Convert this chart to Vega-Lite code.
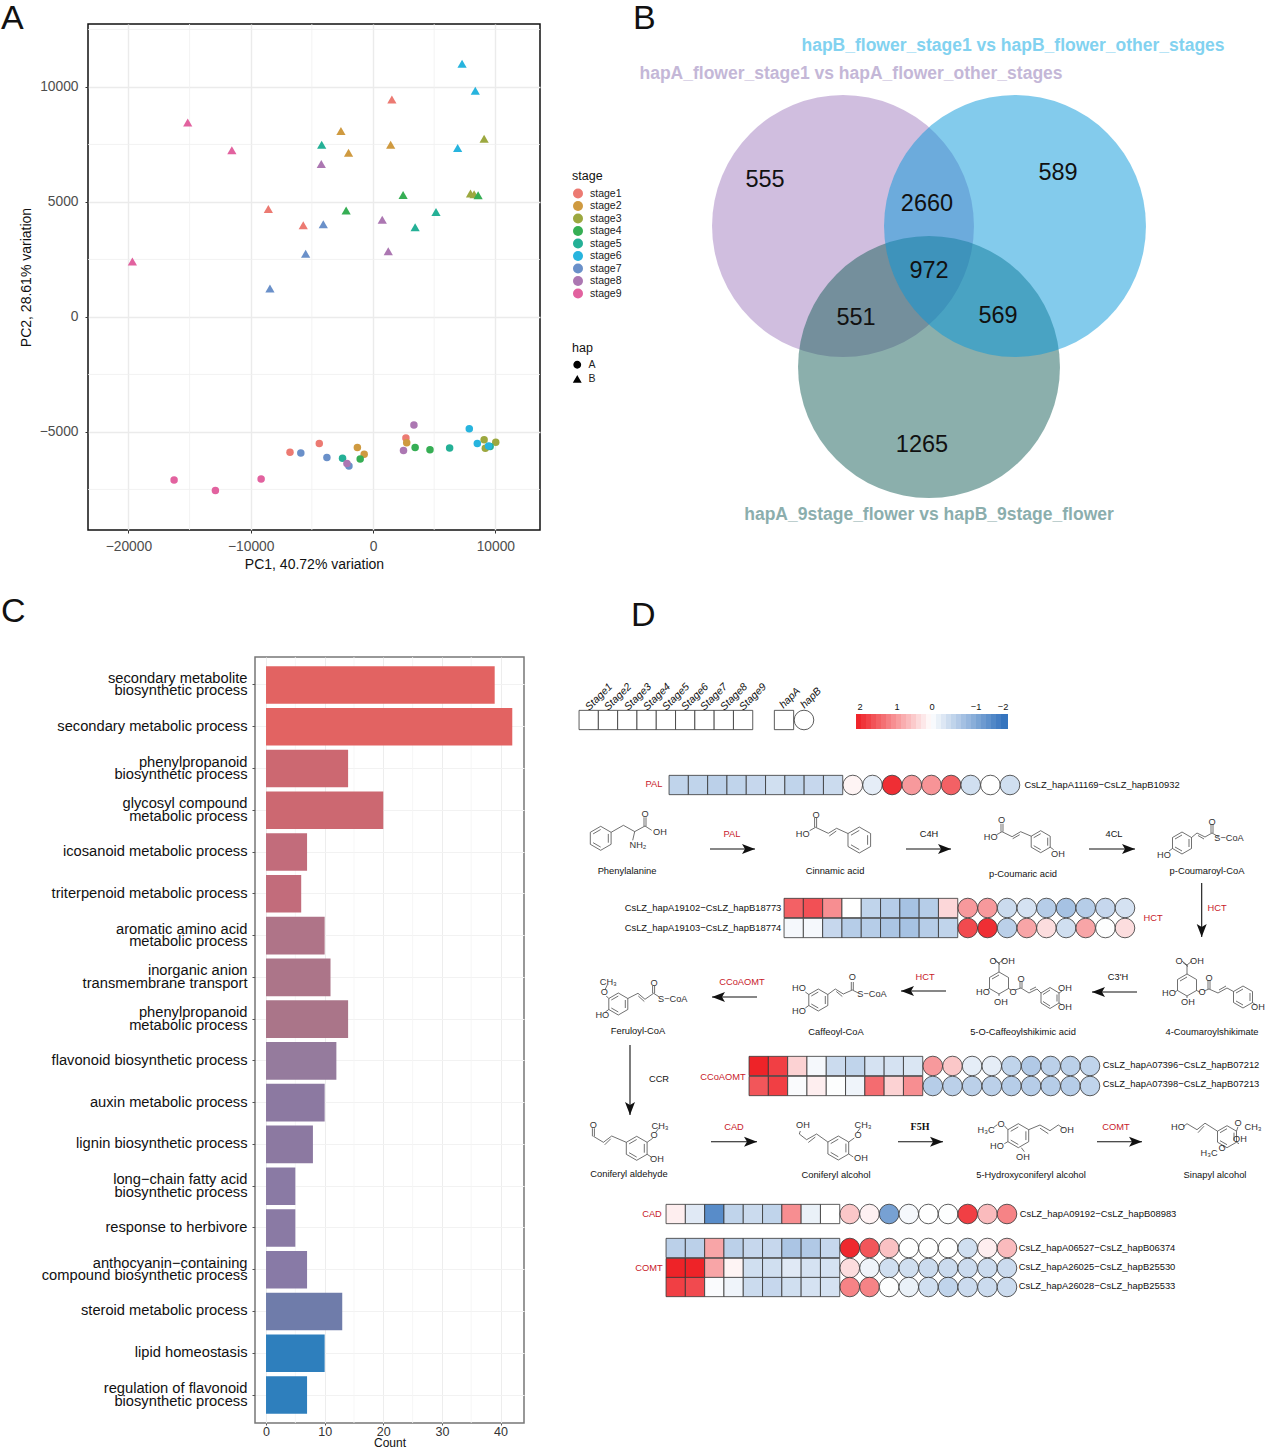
{"$schema":"https://vega.github.io/schema/vega-lite/v6.json","padding":{"left":0,"top":0,"right":0,"bottom":0},"background":"white","config":{"font":"Liberation Sans","view":{"stroke":null},"concat":{"spacing":0}},"bounds":"flush","spacing":633,"datasets":{"cells":[
{"g":"key","s":1,"h":"A","v":0,"gx":18.7,"gy":63},{"g":"key","s":2,"h":"A","v":0,"gx":38,"gy":63},{"g":"key","s":3,"h":"A","v":0,"gx":57.3,"gy":63},{"g":"key","s":4,"h":"A","v":0,"gx":76.6,"gy":63},{"g":"key","s":5,"h":"A","v":0,"gx":95.9,"gy":63},{"g":"key","s":6,"h":"A","v":0,"gx":115.2,"gy":63},{"g":"key","s":7,"h":"A","v":0,"gx":134.5,"gy":63},{"g":"key","s":8,"h":"A","v":0,"gx":153.8,"gy":63},{"g":"key","s":9,"h":"A","v":0,"gx":173.1,"gy":63},{"g":"hapkey","s":0,"h":"A","v":0,"gx":214,"gy":63},{"g":"hapkey","s":0,"h":"B","v":0,"gx":234,"gy":63},
{"g":"11169","s":1,"h":"A","v":-0.6,"gx":108.7,"gy":128},{"g":"11169","s":2,"h":"A","v":-0.6,"gx":128,"gy":128},{"g":"11169","s":3,"h":"A","v":-0.65,"gx":147.3,"gy":128},{"g":"11169","s":4,"h":"A","v":-0.6,"gx":166.6,"gy":128},{"g":"11169","s":5,"h":"A","v":-0.55,"gx":185.9,"gy":128},{"g":"11169","s":6,"h":"A","v":-0.45,"gx":205.2,"gy":128},{"g":"11169","s":7,"h":"A","v":-0.6,"gx":224.5,"gy":128},{"g":"11169","s":8,"h":"A","v":-0.55,"gx":243.8,"gy":128},{"g":"11169","s":9,"h":"A","v":-0.5,"gx":263.1,"gy":128},
{"g":"11169","s":1,"h":"B","v":0.1,"gx":282.8,"gy":128},{"g":"11169","s":2,"h":"B","v":-0.25,"gx":302.5,"gy":128},{"g":"11169","s":3,"h":"B","v":1.85,"gx":322.1,"gy":128},{"g":"11169","s":4,"h":"B","v":0.9,"gx":341.8,"gy":128},{"g":"11169","s":5,"h":"B","v":0.95,"gx":361.4,"gy":128},{"g":"11169","s":6,"h":"B","v":1.4,"gx":381.1,"gy":128},{"g":"11169","s":7,"h":"B","v":-0.45,"gx":400.7,"gy":128},{"g":"11169","s":8,"h":"B","v":0,"gx":420.4,"gy":128},{"g":"11169","s":9,"h":"B","v":-0.45,"gx":440,"gy":128},
{"g":"19102","s":1,"h":"A","v":1.4,"gx":223.7,"gy":251},{"g":"19102","s":2,"h":"A","v":1.55,"gx":243,"gy":251},{"g":"19102","s":3,"h":"A","v":1,"gx":262.3,"gy":251},{"g":"19102","s":4,"h":"A","v":0,"gx":281.6,"gy":251},{"g":"19102","s":5,"h":"A","v":-0.6,"gx":300.9,"gy":251},{"g":"19102","s":6,"h":"A","v":-0.7,"gx":320.2,"gy":251},{"g":"19102","s":7,"h":"A","v":-0.85,"gx":339.5,"gy":251},{"g":"19102","s":8,"h":"A","v":-0.7,"gx":358.8,"gy":251},{"g":"19102","s":9,"h":"A","v":0.35,"gx":378.1,"gy":251},
{"g":"19102","s":1,"h":"B","v":0.9,"gx":397.8,"gy":251},{"g":"19102","s":2,"h":"B","v":0.9,"gx":417.5,"gy":251},{"g":"19102","s":3,"h":"B","v":-0.5,"gx":437.1,"gy":251},{"g":"19102","s":4,"h":"B","v":-0.4,"gx":456.8,"gy":251},{"g":"19102","s":5,"h":"B","v":-0.7,"gx":476.4,"gy":251},{"g":"19102","s":6,"h":"B","v":-0.85,"gx":496.1,"gy":251},{"g":"19102","s":7,"h":"B","v":-0.7,"gx":515.7,"gy":251},{"g":"19102","s":8,"h":"B","v":-0.55,"gx":535.4,"gy":251},{"g":"19102","s":9,"h":"B","v":-0.4,"gx":555,"gy":251},
{"g":"19103","s":1,"h":"A","v":-0.1,"gx":223.7,"gy":271},{"g":"19103","s":2,"h":"A","v":-0.1,"gx":243,"gy":271},{"g":"19103","s":3,"h":"A","v":-0.55,"gx":262.3,"gy":271},{"g":"19103","s":4,"h":"A","v":-0.7,"gx":281.6,"gy":271},{"g":"19103","s":5,"h":"A","v":-0.7,"gx":300.9,"gy":271},{"g":"19103","s":6,"h":"A","v":-0.8,"gx":320.2,"gy":271},{"g":"19103","s":7,"h":"A","v":-0.85,"gx":339.5,"gy":271},{"g":"19103","s":8,"h":"A","v":-0.7,"gx":358.8,"gy":271},{"g":"19103","s":9,"h":"A","v":-0.6,"gx":378.1,"gy":271},
{"g":"19103","s":1,"h":"B","v":1.6,"gx":397.8,"gy":271},{"g":"19103","s":2,"h":"B","v":1.85,"gx":417.5,"gy":271},{"g":"19103","s":3,"h":"B","v":-0.65,"gx":437.1,"gy":271},{"g":"19103","s":4,"h":"B","v":0.8,"gx":456.8,"gy":271},{"g":"19103","s":5,"h":"B","v":0.3,"gx":476.4,"gy":271},{"g":"19103","s":6,"h":"B","v":-0.45,"gx":496.1,"gy":271},{"g":"19103","s":7,"h":"B","v":0.8,"gx":515.7,"gy":271},{"g":"19103","s":8,"h":"B","v":-0.02,"gx":535.4,"gy":271},{"g":"19103","s":9,"h":"B","v":0.3,"gx":555,"gy":271},
{"g":"07396","s":1,"h":"A","v":1.95,"gx":188.7,"gy":409},{"g":"07396","s":2,"h":"A","v":1.7,"gx":208,"gy":409},{"g":"07396","s":3,"h":"A","v":0.4,"gx":227.3,"gy":409},{"g":"07396","s":4,"h":"A","v":-0.1,"gx":246.6,"gy":409},{"g":"07396","s":5,"h":"A","v":-0.5,"gx":265.9,"gy":409},{"g":"07396","s":6,"h":"A","v":-0.6,"gx":285.2,"gy":409},{"g":"07396","s":7,"h":"A","v":-0.4,"gx":304.5,"gy":409},{"g":"07396","s":8,"h":"A","v":-0.4,"gx":323.8,"gy":409},{"g":"07396","s":9,"h":"A","v":-0.35,"gx":343.1,"gy":409},
{"g":"07396","s":1,"h":"B","v":0.9,"gx":362.8,"gy":409},{"g":"07396","s":2,"h":"B","v":0.5,"gx":382.5,"gy":409},{"g":"07396","s":3,"h":"B","v":-0.25,"gx":402.1,"gy":409},{"g":"07396","s":4,"h":"B","v":-0.25,"gx":421.8,"gy":409},{"g":"07396","s":5,"h":"B","v":-0.6,"gx":441.4,"gy":409},{"g":"07396","s":6,"h":"B","v":-0.75,"gx":461.1,"gy":409},{"g":"07396","s":7,"h":"B","v":-0.65,"gx":480.7,"gy":409},{"g":"07396","s":8,"h":"B","v":-0.65,"gx":500.4,"gy":409},{"g":"07396","s":9,"h":"B","v":-0.6,"gx":520,"gy":409},
{"g":"07398","s":1,"h":"A","v":1.5,"gx":188.7,"gy":429},{"g":"07398","s":2,"h":"A","v":1.7,"gx":208,"gy":429},{"g":"07398","s":3,"h":"A","v":-0.05,"gx":227.3,"gy":429},{"g":"07398","s":4,"h":"A","v":0.15,"gx":246.6,"gy":429},{"g":"07398","s":5,"h":"A","v":-0.02,"gx":265.9,"gy":429},{"g":"07398","s":6,"h":"A","v":-0.15,"gx":285.2,"gy":429},{"g":"07398","s":7,"h":"A","v":1.3,"gx":304.5,"gy":429},{"g":"07398","s":8,"h":"A","v":0.4,"gx":323.8,"gy":429},{"g":"07398","s":9,"h":"A","v":1,"gx":343.1,"gy":429},
{"g":"07398","s":1,"h":"B","v":-0.7,"gx":362.8,"gy":429},{"g":"07398","s":2,"h":"B","v":-0.65,"gx":382.5,"gy":429},{"g":"07398","s":3,"h":"B","v":-0.65,"gx":402.1,"gy":429},{"g":"07398","s":4,"h":"B","v":-0.65,"gx":421.8,"gy":429},{"g":"07398","s":5,"h":"B","v":-0.7,"gx":441.4,"gy":429},{"g":"07398","s":6,"h":"B","v":-0.7,"gx":461.1,"gy":429},{"g":"07398","s":7,"h":"B","v":-0.7,"gx":480.7,"gy":429},{"g":"07398","s":8,"h":"B","v":-0.7,"gx":500.4,"gy":429},{"g":"07398","s":9,"h":"B","v":-0.6,"gx":520,"gy":429},
{"g":"09192","s":1,"h":"A","v":0.15,"gx":105.7,"gy":557},{"g":"09192","s":2,"h":"A","v":-0.3,"gx":125,"gy":557},{"g":"09192","s":3,"h":"A","v":-1.6,"gx":144.3,"gy":557},{"g":"09192","s":4,"h":"A","v":-0.6,"gx":163.6,"gy":557},{"g":"09192","s":5,"h":"A","v":-0.5,"gx":182.9,"gy":557},{"g":"09192","s":6,"h":"A","v":-0.6,"gx":202.2,"gy":557},{"g":"09192","s":7,"h":"A","v":1,"gx":221.5,"gy":557},{"g":"09192","s":8,"h":"A","v":-0.2,"gx":240.8,"gy":557},{"g":"09192","s":9,"h":"A","v":0,"gx":260.1,"gy":557},
{"g":"09192","s":1,"h":"B","v":0.5,"gx":279.8,"gy":557},{"g":"09192","s":2,"h":"B","v":0.12,"gx":299.5,"gy":557},{"g":"09192","s":3,"h":"B","v":-1.3,"gx":319.1,"gy":557},{"g":"09192","s":4,"h":"B","v":-0.1,"gx":338.8,"gy":557},{"g":"09192","s":5,"h":"B","v":0,"gx":358.4,"gy":557},{"g":"09192","s":6,"h":"B","v":-0.02,"gx":378.1,"gy":557},{"g":"09192","s":7,"h":"B","v":1.7,"gx":397.7,"gy":557},{"g":"09192","s":8,"h":"B","v":0.6,"gx":417.4,"gy":557},{"g":"09192","s":9,"h":"B","v":1.1,"gx":437,"gy":557},
{"g":"06527","s":1,"h":"A","v":-0.65,"gx":105.7,"gy":591},{"g":"06527","s":2,"h":"A","v":-0.65,"gx":125,"gy":591},{"g":"06527","s":3,"h":"A","v":0.8,"gx":144.3,"gy":591},{"g":"06527","s":4,"h":"A","v":-0.65,"gx":163.6,"gy":591},{"g":"06527","s":5,"h":"A","v":-0.55,"gx":182.9,"gy":591},{"g":"06527","s":6,"h":"A","v":-0.55,"gx":202.2,"gy":591},{"g":"06527","s":7,"h":"A","v":-0.8,"gx":221.5,"gy":591},{"g":"06527","s":8,"h":"A","v":-0.75,"gx":240.8,"gy":591},{"g":"06527","s":9,"h":"A","v":-0.55,"gx":260.1,"gy":591},
{"g":"06527","s":1,"h":"B","v":1.9,"gx":279.8,"gy":591},{"g":"06527","s":2,"h":"B","v":1.5,"gx":299.5,"gy":591},{"g":"06527","s":3,"h":"B","v":0.55,"gx":319.1,"gy":591},{"g":"06527","s":4,"h":"B","v":0,"gx":338.8,"gy":591},{"g":"06527","s":5,"h":"B","v":0,"gx":358.4,"gy":591},{"g":"06527","s":6,"h":"B","v":0,"gx":378.1,"gy":591},{"g":"06527","s":7,"h":"B","v":-0.45,"gx":397.7,"gy":591},{"g":"06527","s":8,"h":"B","v":0.15,"gx":417.4,"gy":591},{"g":"06527","s":9,"h":"B","v":0.6,"gx":437,"gy":591},
{"g":"26025","s":1,"h":"A","v":1.95,"gx":105.7,"gy":611},{"g":"26025","s":2,"h":"A","v":1.95,"gx":125,"gy":611},{"g":"26025","s":3,"h":"A","v":0.8,"gx":144.3,"gy":611},{"g":"26025","s":4,"h":"A","v":0.1,"gx":163.6,"gy":611},{"g":"26025","s":5,"h":"A","v":-0.45,"gx":182.9,"gy":611},{"g":"26025","s":6,"h":"A","v":-0.45,"gx":202.2,"gy":611},{"g":"26025","s":7,"h":"A","v":-0.3,"gx":221.5,"gy":611},{"g":"26025","s":8,"h":"A","v":-0.4,"gx":240.8,"gy":611},{"g":"26025","s":9,"h":"A","v":-0.4,"gx":260.1,"gy":611},
{"g":"26025","s":1,"h":"B","v":0.3,"gx":279.8,"gy":611},{"g":"26025","s":2,"h":"B","v":-0.15,"gx":299.5,"gy":611},{"g":"26025","s":3,"h":"B","v":-0.45,"gx":319.1,"gy":611},{"g":"26025","s":4,"h":"B","v":-0.45,"gx":338.8,"gy":611},{"g":"26025","s":5,"h":"B","v":-0.5,"gx":358.4,"gy":611},{"g":"26025","s":6,"h":"B","v":-0.5,"gx":378.1,"gy":611},{"g":"26025","s":7,"h":"B","v":-0.5,"gx":397.7,"gy":611},{"g":"26025","s":8,"h":"B","v":-0.5,"gx":417.4,"gy":611},{"g":"26025","s":9,"h":"B","v":-0.5,"gx":437,"gy":611},
{"g":"26028","s":1,"h":"A","v":1.7,"gx":105.7,"gy":630},{"g":"26028","s":2,"h":"A","v":1.6,"gx":125,"gy":630},{"g":"26028","s":3,"h":"A","v":-0.05,"gx":144.3,"gy":630},{"g":"26028","s":4,"h":"A","v":-0.15,"gx":163.6,"gy":630},{"g":"26028","s":5,"h":"A","v":-0.5,"gx":182.9,"gy":630},{"g":"26028","s":6,"h":"A","v":-0.55,"gx":202.2,"gy":630},{"g":"26028","s":7,"h":"A","v":-0.45,"gx":221.5,"gy":630},{"g":"26028","s":8,"h":"A","v":-0.4,"gx":240.8,"gy":630},{"g":"26028","s":9,"h":"A","v":-0.4,"gx":260.1,"gy":630},
{"g":"26028","s":1,"h":"B","v":1.1,"gx":279.8,"gy":630},{"g":"26028","s":2,"h":"B","v":1.1,"gx":299.5,"gy":630},{"g":"26028","s":3,"h":"B","v":-0.02,"gx":319.1,"gy":630},{"g":"26028","s":4,"h":"B","v":-0.2,"gx":338.8,"gy":630},{"g":"26028","s":5,"h":"B","v":-0.45,"gx":358.4,"gy":630},{"g":"26028","s":6,"h":"B","v":-0.6,"gx":378.1,"gy":630},{"g":"26028","s":7,"h":"B","v":-0.5,"gx":397.7,"gy":630},{"g":"26028","s":8,"h":"B","v":-0.5,"gx":417.4,"gy":630},{"g":"26028","s":9,"h":"B","v":-0.5,"gx":437,"gy":630}
]},"vconcat":[
{"bounds":"flush","spacing":80,"hconcat":[
{"width":452,"height":506,"view":{"stroke":"#111","strokeWidth":1.5},"title":{"text":"A","anchor":"start","frame":"group","fontSize":34,"fontWeight":"normal","color":"#111","offset":0,"dx":-87,"dy":39,"baseline":"alphabetic"},
"layer":[
{"data":{"values":[{"m":-15000},{"m":-5000},{"m":5000}]},"mark":{"type":"rule","color":"#F0F0F0","strokeWidth":0.8},"encoding":{"x":{"field":"m","type":"quantitative","title":"PC1, 40.72% variation","scale":{"domain":[-23300,13650],"nice":false,"zero":false}}}},
{"data":{"values":[{"m":12500},{"m":7500},{"m":2500},{"m":-2500},{"m":-7500}]},"mark":{"type":"rule","color":"#F0F0F0","strokeWidth":0.8},"encoding":{"y":{"field":"m","type":"quantitative","title":"PC2, 28.61% variation","scale":{"domain":[-9261,12739],"nice":false,"zero":false}}}},
{"data":{"values":[
{"stage":"stage6","hap":"B","pc1":7279,"pc2":11013},{"stage":"stage6","hap":"B","pc1":8360,"pc2":9839},{"stage":"stage6","hap":"B","pc1":6918,"pc2":7347},
{"stage":"stage1","hap":"B","pc1":1541,"pc2":9453},{"stage":"stage1","hap":"B","pc1":-8557,"pc2":4695},{"stage":"stage1","hap":"B","pc1":-5705,"pc2":3987},
{"stage":"stage9","hap":"B","pc1":-15148,"pc2":8457},{"stage":"stage9","hap":"B","pc1":-11541,"pc2":7251},{"stage":"stage9","hap":"B","pc1":-19672,"pc2":2412},
{"stage":"stage2","hap":"B","pc1":-2623,"pc2":8087},{"stage":"stage2","hap":"B","pc1":-2000,"pc2":7138},{"stage":"stage2","hap":"B","pc1":1443,"pc2":7492},
{"stage":"stage5","hap":"B","pc1":-4197,"pc2":7492},{"stage":"stage5","hap":"B","pc1":3443,"pc2":3907},{"stage":"stage5","hap":"B","pc1":5148,"pc2":4566},
{"stage":"stage3","hap":"B","pc1":9082,"pc2":7749},{"stage":"stage3","hap":"B","pc1":7967,"pc2":5370},{"stage":"stage3","hap":"B","pc1":8262,"pc2":5338},
{"stage":"stage8","hap":"B","pc1":-4230,"pc2":6656},{"stage":"stage8","hap":"B","pc1":754,"pc2":4228},{"stage":"stage8","hap":"B","pc1":1246,"pc2":2862},
{"stage":"stage4","hap":"B","pc1":2459,"pc2":5305},{"stage":"stage4","hap":"B","pc1":-2197,"pc2":4630},{"stage":"stage4","hap":"B","pc1":8590,"pc2":5289},
{"stage":"stage7","hap":"B","pc1":-4066,"pc2":4035},{"stage":"stage7","hap":"B","pc1":-5508,"pc2":2749},{"stage":"stage7","hap":"B","pc1":-8426,"pc2":1238},
{"stage":"stage1","hap":"A","pc1":-4393,"pc2":-5498},{"stage":"stage1","hap":"A","pc1":-6787,"pc2":-5884},{"stage":"stage1","hap":"A","pc1":2689,"pc2":-5257},
{"stage":"stage2","hap":"A","pc1":-1279,"pc2":-5675},{"stage":"stage2","hap":"A","pc1":-721,"pc2":-5965},{"stage":"stage2","hap":"A","pc1":2754,"pc2":-5466},
{"stage":"stage3","hap":"A","pc1":9082,"pc2":-5338},{"stage":"stage3","hap":"A","pc1":10033,"pc2":-5450},{"stage":"stage3","hap":"A","pc1":9180,"pc2":-5707},
{"stage":"stage4","hap":"A","pc1":3443,"pc2":-5675},{"stage":"stage4","hap":"A","pc1":-1049,"pc2":-6174},{"stage":"stage4","hap":"A","pc1":4656,"pc2":-5772},
{"stage":"stage5","hap":"A","pc1":-2492,"pc2":-6141},{"stage":"stage5","hap":"A","pc1":6262,"pc2":-5691},{"stage":"stage5","hap":"A","pc1":9574,"pc2":-5627},
{"stage":"stage6","hap":"A","pc1":7869,"pc2":-4855},{"stage":"stage6","hap":"A","pc1":8525,"pc2":-5498},{"stage":"stage6","hap":"A","pc1":9443,"pc2":-5611},
{"stage":"stage7","hap":"A","pc1":-5902,"pc2":-5916},{"stage":"stage7","hap":"A","pc1":-3770,"pc2":-6109},{"stage":"stage7","hap":"A","pc1":-1967,"pc2":-6479},
{"stage":"stage8","hap":"A","pc1":3344,"pc2":-4695},{"stage":"stage8","hap":"A","pc1":2492,"pc2":-5804},{"stage":"stage8","hap":"A","pc1":-2131,"pc2":-6367},
{"stage":"stage9","hap":"A","pc1":-16262,"pc2":-7090},{"stage":"stage9","hap":"A","pc1":-12885,"pc2":-7540},{"stage":"stage9","hap":"A","pc1":-9148,"pc2":-7042}
]},"encoding":{
"x":{"field":"pc1","type":"quantitative","title":"PC1, 40.72% variation","scale":{"domain":[-23300,13650],"nice":false,"zero":false},"axis":{"values":[-20000,-10000,0,10000],"format":"d","grid":true,"gridColor":"#EBEBEB","gridWidth":1.4,"domain":false,"tickSize":3,"tickColor":"#333","labelFontSize":13.8,"labelColor":"#4D4D4D","labelPadding":6,"titleFontSize":14,"titleFontWeight":"normal","titleColor":"#111","titlePadding":5,"labelFlush":false}},
"y":{"field":"pc2","type":"quantitative","title":"PC2, 28.61% variation","scale":{"domain":[-9261,12739],"nice":false,"zero":false},"axis":{"values":[-5000,0,5000,10000],"format":"d","grid":true,"gridColor":"#EBEBEB","gridWidth":1.4,"domain":false,"tickSize":3,"tickColor":"#333","labelFontSize":13.8,"labelColor":"#4D4D4D","labelPadding":7,"titleFontSize":14,"titleFontWeight":"normal","titleColor":"#111","titlePadding":6}},
"color":{"field":"stage","type":"nominal","scale":{"domain":["stage1","stage2","stage3","stage4","stage5","stage6","stage7","stage8","stage9"],"range":["#EC7A72","#CF9A40","#9CA83F","#36AE54","#24B096","#27B4DE","#6A90C9","#AC77B2","#E2629F"]},"legend":{"title":"stage","orient":"none","legendX":484,"legendY":146,"symbolType":"circle","symbolSize":100,"titleFontSize":12.5,"titleFontWeight":"normal","titleColor":"#111","labelFontSize":10.5,"labelColor":"#222","labelOffset":6,"rowPadding":0.5,"symbolOpacity":1}},
"shape":{"field":"hap","type":"nominal","scale":{"domain":["A","B"],"range":["circle","triangle-up"]},"legend":{"title":"hap","orient":"none","legendX":484,"legendY":318,"symbolSize":40,"symbolFillColor":"#000","symbolStrokeColor":"#000","titleFontSize":12.5,"titleFontWeight":"normal","titleColor":"#111","labelFontSize":10.5,"labelColor":"#222","labelOffset":6,"rowPadding":1.5}}
},"layer":[
{"transform":[{"filter":"datum.hap=='A'"}],"mark":{"type":"point","filled":true,"opacity":1,"size":56}},
{"transform":[{"filter":"datum.hap=='B'"}],"mark":{"type":"point","filled":true,"opacity":1,"size":85}}
]}]},
{"width":646,"height":506,"title":{"text":"B","anchor":"start","frame":"group","fontSize":34,"fontWeight":"normal","color":"#111","offset":0,"dx":13,"dy":39,"baseline":"alphabetic"},
"resolve":{"scale":{"color":"independent"}},
"layer":[
{"data":{"values":[{"set":"hapA stages","gx":223,"gy":202},{"set":"hapB stages","gx":395,"gy":202},{"set":"hapA vs hapB","gx":309,"gy":343}]},"mark":{"type":"circle","size":68600,"opacity":0.5},"encoding":{"x":{"field":"gx","type":"quantitative","axis":null,"scale":{"domain":[0,646],"nice":false,"zero":false}},"y":{"field":"gy","type":"quantitative","axis":null,"scale":{"domain":[506,0],"nice":false,"zero":false}},"color":{"field":"set","type":"nominal","legend":null,"sort":null,"scale":{"domain":["hapA stages","hapB stages","hapA vs hapB"],"range":["#A17DBF","#0797D9","#175F59"]}},"order":{"field":"gx","type":"quantitative","sort":"ascending"}}},
{"data":{"values":[{"n":"555","gx":145,"gy":156},{"n":"589","gx":438,"gy":149},{"n":"2660","gx":307,"gy":180},{"n":"972","gx":309,"gy":247},{"n":"551","gx":236,"gy":294},{"n":"569","gx":378,"gy":292},{"n":"1265","gx":302,"gy":421}]},"mark":{"type":"text","fontSize":23.5,"color":"#111"},"encoding":{"x":{"field":"gx","type":"quantitative"},"y":{"field":"gy","type":"quantitative"},"text":{"field":"n"}}},
{"data":{"values":[{"t":"hapB_flower_stage1 vs hapB_flower_other_stages","gx":393,"gy":22,"k":"b"},{"t":"hapA_flower_stage1 vs hapA_flower_other_stages","gx":231,"gy":50,"k":"a"},{"t":"hapA_9stage_flower vs hapB_9stage_flower","gx":309,"gy":491,"k":"c"}]},"mark":{"type":"text","fontSize":17.5,"fontWeight":"bold"},"encoding":{"x":{"field":"gx","type":"quantitative"},"y":{"field":"gy","type":"quantitative"},"text":{"field":"t"},"color":{"field":"k","type":"nominal","legend":null,"scale":{"domain":["a","b","c"],"range":["#C4B7D7","#82D2F0","#8BAEAD"]}}}}
]}
]},
{"bounds":"flush","spacing":46,"hconcat":[
{"width":121,"height":10,"data":{"values":[{"a":0}]},"mark":{"type":"point","opacity":0},"encoding":{}},
{"width":269,"height":766,"view":{"stroke":"#777","strokeWidth":1.5},"title":{"text":"C","anchor":"start","frame":"group","fontSize":34,"fontWeight":"normal","color":"#111","offset":0,"dx":-254,"dy":-1,"baseline":"alphabetic"},
"layer":[
{"data":{"values":[{"m":5},{"m":15},{"m":25},{"m":35}]},"mark":{"type":"rule","color":"#F4F4F4","strokeWidth":0.8},"encoding":{"x":{"field":"m","type":"quantitative","title":"Count","scale":{"domain":[-1.88,44],"nice":false,"zero":false}}}},
{"data":{"values":[
{"term":"secondary metabolite\nbiosynthetic process","count":39,"p":0},{"term":"secondary metabolic process","count":42,"p":0},{"term":"phenylpropanoid\nbiosynthetic process","count":14,"p":0.16},{"term":"glycosyl compound\nmetabolic process","count":20,"p":0.16},{"term":"icosanoid metabolic process","count":7,"p":0.25},{"term":"triterpenoid metabolic process","count":6,"p":0.25},{"term":"aromatic amino acid\nmetabolic process","count":10,"p":0.38},{"term":"inorganic anion\ntransmembrane transport","count":11,"p":0.4},{"term":"phenylpropanoid\nmetabolic process","count":14,"p":0.41},{"term":"flavonoid biosynthetic process","count":12,"p":0.55},{"term":"auxin metabolic process","count":10,"p":0.6},{"term":"lignin biosynthetic process","count":8,"p":0.6},{"term":"long\u2212chain fatty acid\nbiosynthetic process","count":5,"p":0.62},{"term":"response to herbivore","count":5,"p":0.62},{"term":"anthocyanin\u2212containing\ncompound biosynthetic process","count":7,"p":0.64},{"term":"steroid metabolic process","count":13,"p":0.75},{"term":"lipid homeostasis","count":10,"p":1},{"term":"regulation of flavonoid\nbiosynthetic process","count":7,"p":1}
]},"mark":{"type":"bar","opacity":1},"encoding":{
"y":{"field":"term","type":"nominal","sort":null,"title":null,"scale":{"paddingInner":0.1,"paddingOuter":0.22},"axis":{"labelExpr":"split(datum.label,'\\n')","labelFontSize":14.7,"labelColor":"#111","labelLineHeight":12.5,"labelLimit":260,"tickSize":3,"tickColor":"#555","labelPadding":5,"labelOffset":{"condition":{"test":"indexof(datum.label,'\\n')>=0","value":-6},"value":0},"domain":false,"grid":true,"gridColor":"#F2F2F2","labelAngle":0}},
"x":{"field":"count","type":"quantitative","title":"Count","scale":{"domain":[-1.88,44],"nice":false,"zero":false},"axis":{"values":[0,10,20,30,40],"grid":true,"gridColor":"#EDEDED","domain":false,"tickSize":2,"tickColor":"#555","labelFontSize":12.5,"labelColor":"#333","labelPadding":0,"titleFontSize":12,"titleFontWeight":"normal","titleColor":"#111","titlePadding":0}},
"color":{"field":"p","type":"quantitative","legend":null,"scale":{"domain":[0,0.16,0.25,0.38,0.41,0.55,0.6,0.64,0.75,1],"range":["#E26362","#CC6871","#C26C7B","#AF7488","#AA7589","#957B9D","#8C79A1","#887AA6","#6F7CAA","#2E7FBD"],"interpolate":"rgb"}}
}}]},
{"width":696,"height":766,"title":{"text":"D","anchor":"start","frame":"group","fontSize":34,"fontWeight":"normal","color":"#111","offset":0,"dx":61,"dy":3,"baseline":"alphabetic"},
"resolve":{"scale":{"shape":"independent","color":"independent","size":"independent"}},
"layer":[
{"data":{"values":[{"x0":140,"x1":185,"y0":192,"y1":192,"dir":"right"},{"x0":336,"x1":381,"y0":192,"y1":192,"dir":"right"},{"x0":519,"x1":565,"y0":192,"y1":192,"dir":"right"},{"x0":631.7,"x1":631.7,"y0":226,"y1":280,"dir":"down"},{"x0":567,"x1":522,"y0":335,"y1":335,"dir":"left"},{"x0":376,"x1":331,"y0":334,"y1":334,"dir":"left"},{"x0":187,"x1":142,"y0":340,"y1":340,"dir":"left"},{"x0":60,"x1":60,"y0":388,"y1":458,"dir":"down"},{"x0":141,"x1":187,"y0":484.7,"y1":484.7,"dir":"right"},{"x0":328,"x1":373,"y0":484.7,"y1":484.7,"dir":"right"},{"x0":527,"x1":572,"y0":484.7,"y1":484.7,"dir":"right"}]},
"layer":[
{"mark":{"type":"rule","color":"#111","strokeWidth":1.1},"encoding":{"x":{"field":"x0","type":"quantitative","axis":null,"scale":{"domain":[0,696],"nice":false,"zero":false}},"x2":{"field":"x1"},"y":{"field":"y0","type":"quantitative","axis":null,"scale":{"domain":[766,0],"nice":false,"zero":false}},"y2":{"field":"y1"}}},
{"mark":{"type":"point","filled":true,"size":4,"opacity":1,"color":"#111"},"encoding":{"x":{"field":"x1","type":"quantitative"},"y":{"field":"y1","type":"quantitative"},"shape":{"field":"dir","type":"nominal","legend":null,"scale":{"domain":["right","left","down"],"range":["M-13,-5L0,0L-13,5L-10,0Z","M13,-5L0,0L13,5L10,0Z","M-5,-13L0,0L5,-13L0,-10Z"]}}}}
]},
{"data":{"values":[{"compound":"Phenylalanine","gx":30.7,"gy":181.3},{"compound":"Cinnamic acid","gx":289.3,"gy":183},{"compound":"p-Coumaric acid","gx":470.7,"gy":184.7},{"compound":"p-Coumaroyl-CoA","gx":612,"gy":186},{"compound":"4-Coumaroylshikimate","gx":617,"gy":328},{"compound":"5-O-Caffeoylshikimic acid","gx":429,"gy":326},{"compound":"Caffeoyl-CoA","gx":248.3,"gy":343},{"compound":"Feruloyl-CoA","gx":48.3,"gy":347},{"compound":"Coniferyl aldehyde","gx":66.7,"gy":491.3},{"compound":"Coniferyl alcohol","gx":268.3,"gy":491},{"compound":"5-Hydroxyconiferyl alcohol","gx":448.3,"gy":478.7},{"compound":"Sinapyl alcohol","gx":657,"gy":479.7}]},
"mark":{"type":"point","filled":false,"size":4,"stroke":"#333","strokeWidth":0.7,"opacity":1},"encoding":{"x":{"field":"gx","type":"quantitative"},"y":{"field":"gy","type":"quantitative"},"shape":{"field":"compound","type":"nominal","legend":null,"scale":{"domain":["Phenylalanine","Cinnamic acid","p-Coumaric acid","p-Coumaroyl-CoA","4-Coumaroylshikimate","5-O-Caffeoylshikimic acid","Caffeoyl-CoA","Feruloyl-CoA","Coniferyl aldehyde","Coniferyl alcohol","5-Hydroxyconiferyl alcohol","Sinapyl alcohol"],"range":[
"M0,-12L10.4,-6V6L0,12L-10.4,6V-6ZM7.6,-4.4V4.4M0,8.8L-7.6,4.4M-7.6,-4.4L0,-8.8M10.4,-6L22.7,-13L34,-6.7L44.3,-12.3M43.3,-12V-21M45.3,-12V-21M44.3,-12.3L51,-8M34,-6.7L32,2",
"M0,-13L11.3,-6.5V6.5L0,13L-11.3,6.5V-6.5ZM8.3,-4.8V4.8M0,9.6L-8.3,4.8M-8.3,-4.8L0,-9.6M-11.3,-6.5L-22.7,-11.7L-31,-6.7L-43.7,-12.7M-23,-9L-30,-4M-44.7,-12.7V-22M-42.7,-12.7V-22M-43.7,-12.7L-49.7,-9.3",
"M0,-11L9.5,-5.5V5.5L0,11L-9.5,5.5V-5.5ZM7,-4V4M0,8L-7,4M-7,-4L0,-8M-9.5,-5.5L-20,-10L-28.6,-5L-38.7,-10M-21,-7L-28,-3M-39.7,-10V-18M-37.7,-10V-18M-38.7,-10L-44,-7M9.5,5.5L13,8",
"M0,-11L9.5,-5.5V5.5L0,11L-9.5,5.5V-5.5ZM7,-4V4M0,8L-7,4M-7,-4L0,-8M9.5,-5.5L15,-10L23,-6L30,-10M16,-7.5L22,-4M29,-10V-19M31,-10V-19M30,-10L37,-6M-9.5,5.5L-13,8",
"M0,-11L9.5,-5.5V5.5L0,11L-9.5,5.5V-5.5ZM-7,-4L0,-8M0,-11V-20M0,-20L-5,-24M1,-18.5L-4,-22.5M0,-20L5,-24M-9.5,5.5L-12,7M0,11V13M9.5,5.5L13,7M17,6L22,4L31,8L40,3L46.5,6.5M32,5L39,1M21,4V-5M23,4V-5M56,1L65.5,6.5V17.5L56,23L46.5,17.5V6.5ZM63,8V16M56,20L49,16M49,8L56,4M65.5,17.5L69,20",
"M0,-11L9.5,-5.5V5.5L0,11L-9.5,5.5V-5.5ZM-7,-4L0,-8M0,-11V-20M0,-20L-5,-24M1,-18.5L-4,-22.5M0,-20L5,-24M-9.5,5.5L-12,7M0,11V13M9.5,5.5L12,7M16,7L22,5L30,10L38,6L42,10M31,7L37,4M21,5V-1M23,5V-1M51,4.5L60,10V20L51,25.5L42,20V10ZM58,11.5V18.5M51,23L44,18.5M44,11.5L51,7M60,10L63,8M60,20L63,22",
"M0,-11L9.5,-5.5V5.5L0,11L-9.5,5.5V-5.5ZM7,-4V4M0,8L-7,4M-7,-4L0,-8M-9.5,-5.5L-13,-8M-9.5,5.5L-13,8M9.5,-5.5L17,-11L25,-6L34,-10M18,-8.5L24,-3.5M33,-10V-18M35,-10V-18M34,-10L40,-7",
"M0,-11L9.5,-5.5V5.5L0,11L-9.5,5.5V-5.5ZM7,-4V4M0,8L-7,4M-7,-4L0,-8M-9.5,-5.5L-12,-8M-9.5,5.5L-13,8M9.5,-5.5L19.7,-10.7L26.7,-4.7L35.3,-10.7M20,-8L26,-2.5M34.3,-10.7V-18M36.3,-10.7V-18M35.3,-10.7L41,-7M-13,-15L-11,-19",
"M0,-12L10.4,-6V6L0,12L-10.4,6V-6ZM7.6,-4.4V4.4M0,8.8L-7.6,4.4M-7.6,-4.4L0,-8.8M-10.4,-6L-25,-12.3L-33.3,-6L-43.3,-12M-26,-9.5L-32,-3.5M-44.3,-12V-20M-42.3,-12V-20M10.4,-6L16,-10M19,-16L22,-20M10.4,6L15,9",
"M0,-12L10.4,-6V6L0,12L-10.4,6V-6ZM7.6,-4.4V4.4M0,8.8L-7.6,4.4M-7.6,-4.4L0,-8.8M-10.4,-6L-21.7,-14L-31.7,-8.3L-39,-14L-38,-17M-23,-11L-30,-5.5M10.4,-6L16,-10M19,-16L22,-20M10.4,6L15,9",
"M0,-12L10.4,-6V6L0,12L-10.4,6V-6ZM7.6,-4.4V4.4M0,8.8L-7.6,4.4M-7.6,-4.4L0,-8.8M10.4,-6L21.7,-10.7L31.7,-5L40,-10.7L45,-7.3M21.7,-7.5L30,-2M-10.4,-6L-14,-10M-25,-8L-21,-11M-10.4,6L-14,8M3,12L6,16",
"M0,-11L9.5,-5.5V5.5L0,11L-9.5,5.5V-5.5ZM7,-4V4M0,8L-7,4M-7,-4L0,-8M-9.5,-5.5L-22,-13.5L-30,-7L-40,-13L-44,-10M-23,-10.5L-29,-4M9.5,-5.5L11,-10M9.5,5.5L12,7M-3,11L-4,9"
]}}}},
{"data":{"values":[{"v":1.93,"x0":286,"x1":291.5},{"v":1.8,"x0":291,"x1":296.5},{"v":1.67,"x0":296,"x1":301.5},{"v":1.53,"x0":301,"x1":306.5},{"v":1.4,"x0":306,"x1":311.5},{"v":1.27,"x0":311,"x1":316.5},{"v":1.13,"x0":316,"x1":321.5},{"v":1,"x0":321,"x1":326.5},{"v":0.87,"x0":326,"x1":331.5},{"v":0.73,"x0":331,"x1":336.5},{"v":0.6,"x0":336,"x1":341.5},{"v":0.47,"x0":341,"x1":346.5},{"v":0.33,"x0":346,"x1":351.5},{"v":0.2,"x0":351,"x1":356.5},{"v":0.07,"x0":356,"x1":361.5},{"v":-0.07,"x0":361,"x1":366.5},{"v":-0.2,"x0":366,"x1":371.5},{"v":-0.33,"x0":371,"x1":376.5},{"v":-0.47,"x0":376,"x1":381.5},{"v":-0.6,"x0":381,"x1":386.5},{"v":-0.73,"x0":386,"x1":391.5},{"v":-0.87,"x0":391,"x1":396.5},{"v":-1,"x0":396,"x1":401.5},{"v":-1.13,"x0":401,"x1":406.5},{"v":-1.27,"x0":406,"x1":411.5},{"v":-1.4,"x0":411,"x1":416.5},{"v":-1.53,"x0":416,"x1":421.5},{"v":-1.67,"x0":421,"x1":426.5},{"v":-1.8,"x0":426,"x1":431.5},{"v":-1.93,"x0":431,"x1":438}]},"mark":{"type":"rect"},"encoding":{"x":{"field":"x0","type":"quantitative"},"x2":{"field":"x1"},"y":{"datum":57},"y2":{"datum":72},"fill":{"field":"v","type":"quantitative","legend":null,"scale":{"domain":[-2,0,2],"range":["#2E6FBC","#FFFFFF","#EE1D23"],"interpolate":"rgb"}}}},
{"data":{"name":"cells"},"transform":[{"filter":"datum.h=='A'"}],"mark":{"type":"square","size":372,"stroke":"#333","strokeWidth":0.8,"opacity":1},"encoding":{"x":{"field":"gx","type":"quantitative"},"y":{"field":"gy","type":"quantitative"},"fill":{"field":"v","type":"quantitative","legend":null}}},
{"data":{"name":"cells"},"transform":[{"filter":"datum.h=='B'"}],"mark":{"type":"circle","size":384,"stroke":"#333","strokeWidth":0.8,"opacity":1},"encoding":{"x":{"field":"gx","type":"quantitative"},"y":{"field":"gy","type":"quantitative"},"fill":{"field":"v","type":"quantitative","legend":null}}},
{"data":{"values":[{"t":"Stage1","gx":29,"gy":40},{"t":"Stage2","gx":48,"gy":40},{"t":"Stage3","gx":68,"gy":40},{"t":"Stage4","gx":87,"gy":40},{"t":"Stage5","gx":106,"gy":40},{"t":"Stage6","gx":125,"gy":40},{"t":"Stage7","gx":144,"gy":40},{"t":"Stage8","gx":164,"gy":40},{"t":"Stage9","gx":183,"gy":40},{"t":"hapA","gx":220,"gy":41},{"t":"hapB","gx":241,"gy":41}]},"mark":{"type":"text","angle":315,"fontSize":10.5,"fontStyle":"italic","color":"#111"},"encoding":{"x":{"field":"gx","type":"quantitative"},"y":{"field":"gy","type":"quantitative"},"text":{"field":"t"}}},
{"data":{"values":[{"t":"F5H","gx":350,"gy":470}]},"mark":{"type":"text","fontSize":10,"font":"Liberation Serif","fontWeight":"bold","color":"#111"},"encoding":{"x":{"field":"gx","type":"quantitative"},"y":{"field":"gy","type":"quantitative"},"text":{"field":"t"}}},
{"data":{"values":[
{"t":"2","k":"step","gx":290,"gy":50},{"t":"1","k":"step","gx":327,"gy":50},{"t":"0","k":"step","gx":362,"gy":50},{"t":"\u22121","k":"step","gx":406,"gy":50},{"t":"\u22122","k":"step","gx":433,"gy":50},
{"t":"PAL","k":"enzyme","gx":84,"gy":127},{"t":"CsLZ_hapA11169\u2212CsLZ_hapB10932","k":"gene","gx":532,"gy":128},
{"t":"Phenylalanine","k":"compound","gx":57,"gy":214},{"t":"Cinnamic acid","k":"compound","gx":265,"gy":214},{"t":"p-Coumaric acid","k":"compound","gx":453,"gy":217},{"t":"p-Coumaroyl-CoA","k":"compound","gx":637,"gy":214},
{"t":"PAL","k":"enzyme","gx":162,"gy":177},{"t":"C4H","k":"step","gx":359,"gy":177},{"t":"4CL","k":"step","gx":544,"gy":177},{"t":"HCT","k":"enzyme","gx":647,"gy":251},{"t":"HCT","k":"enzyme","gx":583,"gy":261},
{"t":"CsLZ_hapA19102\u2212CsLZ_hapB18773","k":"gene","gx":133,"gy":251},{"t":"CsLZ_hapA19103\u2212CsLZ_hapB18774","k":"gene","gx":133,"gy":271},
{"t":"C3'H","k":"step","gx":548,"gy":320},{"t":"HCT","k":"enzyme","gx":355,"gy":320},{"t":"CCoAOMT","k":"enzyme","gx":172,"gy":325},
{"t":"Feruloyl-CoA","k":"compound","gx":68,"gy":373.7},{"t":"Caffeoyl-CoA","k":"compound","gx":266,"gy":375},{"t":"5-O-Caffeoylshikimic acid","k":"compound","gx":453,"gy":375},{"t":"4-Coumaroylshikimate","k":"compound","gx":642,"gy":375},
{"t":"CCR","k":"step","gx":89,"gy":422},{"t":"CCoAOMT","k":"enzyme","gx":153,"gy":420},{"t":"CsLZ_hapA07396\u2212CsLZ_hapB07212","k":"gene","gx":611,"gy":408},{"t":"CsLZ_hapA07398\u2212CsLZ_hapB07213","k":"gene","gx":611,"gy":427},
{"t":"Coniferyl aldehyde","k":"compound","gx":59,"gy":517},{"t":"Coniferyl alcohol","k":"compound","gx":266,"gy":518},{"t":"5-Hydroxyconiferyl alcohol","k":"compound","gx":461,"gy":518},{"t":"Sinapyl alcohol","k":"compound","gx":645,"gy":518},
{"t":"CAD","k":"enzyme","gx":164,"gy":470},{"t":"COMT","k":"enzyme","gx":546,"gy":470},
{"t":"CAD","k":"enzyme","gx":82,"gy":557},{"t":"CsLZ_hapA09192\u2212CsLZ_hapB08983","k":"gene","gx":528,"gy":557},
{"t":"COMT","k":"enzyme","gx":79,"gy":611},{"t":"CsLZ_hapA06527\u2212CsLZ_hapB06374","k":"gene","gx":527,"gy":591},{"t":"CsLZ_hapA26025\u2212CsLZ_hapB25530","k":"gene","gx":527,"gy":610},{"t":"CsLZ_hapA26028\u2212CsLZ_hapB25533","k":"gene","gx":527,"gy":629},
{"t":"O","k":"atom","gx":75,"gy":157},{"t":"OH","k":"atom","gx":90,"gy":175},{"t":"NH\u2082","k":"atom","gx":68,"gy":188},
{"t":"HO","k":"atom","gx":232.7,"gy":177},{"t":"O","k":"atom","gx":246,"gy":158},
{"t":"HO","k":"atom","gx":420.7,"gy":180},{"t":"O","k":"atom","gx":431.7,"gy":163},{"t":"OH","k":"atom","gx":488,"gy":197},
{"t":"HO","k":"atom","gx":594,"gy":198},{"t":"O","k":"atom","gx":642,"gy":165},{"t":"S\u2212CoA","k":"atom","gx":659,"gy":181},
{"t":"O","k":"atom","gx":609,"gy":304},{"t":"OH","k":"atom","gx":627,"gy":304},{"t":"HO","k":"atom","gx":599,"gy":336},{"t":"OH","k":"atom","gx":618,"gy":345},{"t":"O","k":"atom","gx":632,"gy":335},{"t":"O","k":"atom","gx":639,"gy":321},{"t":"OH","k":"atom","gx":688,"gy":350},
{"t":"O","k":"atom","gx":423,"gy":304},{"t":"OH","k":"atom","gx":438,"gy":304},{"t":"HO","k":"atom","gx":413,"gy":335},{"t":"OH","k":"atom","gx":431,"gy":345},{"t":"O","k":"atom","gx":443,"gy":335},{"t":"O","k":"atom","gx":451,"gy":322},{"t":"OH","k":"atom","gx":495,"gy":331},{"t":"OH","k":"atom","gx":495,"gy":350},
{"t":"HO","k":"atom","gx":229,"gy":331.3},{"t":"HO","k":"atom","gx":229,"gy":353.7},{"t":"O","k":"atom","gx":282.3,"gy":320.3},{"t":"S\u2212CoA","k":"atom","gx":302,"gy":337},
{"t":"CH\u2083","k":"atom","gx":38.3,"gy":325.3},{"t":"O","k":"atom","gx":34.3,"gy":335.3},{"t":"HO","k":"atom","gx":32.3,"gy":358},{"t":"O","k":"atom","gx":84,"gy":325.7},{"t":"S\u2212CoA","k":"atom","gx":102.7,"gy":342},
{"t":"O","k":"atom","gx":23.3,"gy":468},{"t":"O","k":"atom","gx":84,"gy":478},{"t":"CH\u2083","k":"atom","gx":90,"gy":468.7},{"t":"OH","k":"atom","gx":87,"gy":502},
{"t":"OH","k":"atom","gx":233,"gy":468},{"t":"O","k":"atom","gx":288,"gy":478},{"t":"CH\u2083","k":"atom","gx":293,"gy":468},{"t":"OH","k":"atom","gx":291,"gy":500.7},
{"t":"H\u2083C","k":"atom","gx":416,"gy":473},{"t":"O","k":"atom","gx":431,"gy":467},{"t":"HO","k":"atom","gx":427,"gy":489},{"t":"OH","k":"atom","gx":453,"gy":500},{"t":"OH","k":"atom","gx":497,"gy":473},
{"t":"HO","k":"atom","gx":608,"gy":470},{"t":"O","k":"atom","gx":668,"gy":466},{"t":"CH\u2083","k":"atom","gx":683,"gy":470},{"t":"OH","k":"atom","gx":670,"gy":482},{"t":"H\u2083C","k":"atom","gx":639,"gy":496},{"t":"O","k":"atom","gx":652,"gy":491}
]},"mark":{"type":"text"},"encoding":{"x":{"field":"gx","type":"quantitative"},"y":{"field":"gy","type":"quantitative"},"text":{"field":"t"},"color":{"field":"k","type":"nominal","legend":null,"scale":{"domain":["gene","compound","enzyme","step","atom"],"range":["#111111","#111111","#C8202B","#111111","#333333"]}},"size":{"field":"k","type":"ordinal","legend":null,"scale":{"domain":["gene","compound","enzyme","step","atom"],"range":[9.4,9.2,10,10,8]}}}}
]}
]}
]}
